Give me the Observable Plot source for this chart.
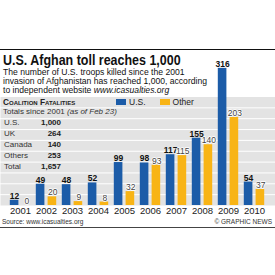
<!DOCTYPE html>
<html>
<head>
<meta charset="utf-8">
<script src="https://cdn.jsdelivr.net/npm/d3@7"></script>
<script src="https://cdn.jsdelivr.net/npm/@observablehq/plot@0.6"></script>
<style>
  html, body { margin: 0; padding: 0; background: #fff; }
  #wrap { position: relative; width: 275px; height: 275px; overflow: hidden; font-family: "Liberation Sans", Arial, sans-serif; color: #1a1a1a; }
  #chart { position: absolute; left: 0; top: 0; }
  .abs { position: absolute; white-space: nowrap; }
  #rule { left: 0; top: 48.5px; width: 275px; height: 1.5px; background: #111; }
  #title { left: 3px; top: 52px; font-weight: bold; font-size: 14.5px; line-height: 16px; color: #111; transform: scaleX(0.86); transform-origin: 0 0; }
  #sub { left: 3px; top: 67.5px; font-size: 8.6px; line-height: 9px; color: #111; }
  #sub i { font-style: italic; }
  #head { left: 3px; top: 96.5px; height: 10.8px; line-height: 10.8px; font-size: 8.3px; font-weight: bold; font-variant: small-caps; color: #222; }
  #totals { left: 3px; top: 107.3px; line-height: 10.8px; font-size: 8px; color: #333; }
  #table { left: 0; top: 118.2px; }
  #table .row { position: relative; height: 10.85px; line-height: 10.85px; font-size: 8px; width: 70px; }
  #table .lab { position: absolute; left: 4px; color: #333; }
  #table .val { position: absolute; right: 9px; font-weight: bold; color: #222; }
  #legend { left: 116px; top: 96.5px; line-height: 10.8px; font-size: 8.5px; color: #222; }
  #legend .sw { display: inline-block; width: 10px; height: 6px; vertical-align: -0.5px; margin-right: 3px; }
  #source { left: 2px; top: 218px; font-size: 6.5px; color: #333; }
  #credit { right: 3px; top: 218px; font-size: 6.5px; color: #333; }
  #rule2 { left: 0; top: 226.5px; width: 275px; height: 1px; background: #444; }
</style>
</head>
<body>
<div id="wrap">
  <div id="chart"></div>
  <div class="abs" id="rule"></div>
  <div class="abs" id="title"></div>
  <div class="abs" id="sub"></div>
  <div class="abs" id="head"></div>
  <div class="abs" id="totals"></div>
  <div class="abs" id="table"></div>
  <div class="abs" id="legend"></div>
  <div class="abs" id="source"></div>
  <div class="abs" id="credit"></div>
  <div class="abs" id="rule2"></div>
</div>
<script>
// ---- data ----
const years = ["2001","2002","2003","2004","2005","2006","2007","2008","2009","2010"];
const usDeaths = [12, 49, 48, 52, 99, 98, 117, 155, 316, 54];
const otherDeaths = [0, 20, 9, 8, 32, 93, 115, 140, 203, 37];
const seriesNames = ["U.S.", "Other"];
const tableLabels = ["U.S.", "UK", "Canada", "Others", "Total"];
const tableValues = ["1,000", "264", "140", "253", "1,657"];
const gridValues = [25, 50, 75, 100, 125, 150, 175, 200, 225];

const titleText = "U.S. Afghan toll reaches 1,000";
const subLines = ["The number of U.S. troops killed since the 2001",
                  "invasion of Afghanistan has reached 1,000, according"];
const subLast = "to independent website ";
const subSite = "www.icasualties.org";
const headText = "Coalition Fatalities";
const totalsText = "Totals since 2001 ";
const totalsItal = "(as of Feb 23)";
const sourceText = "Source: www.icasualties.org";
const creditText = "© GRAPHIC NEWS";

const blue = "#1c5ca8";
const orange = "#f8b416";

const rows = years.map((y, i) => ({year: y, us: usDeaths[i], other: otherDeaths[i]}));

// ---- text blocks ----
document.getElementById("title").textContent = titleText;
document.getElementById("sub").innerHTML = subLines.join("<br>") + "<br>" + subLast + "<i>" + subSite + "</i>";
document.getElementById("head").textContent = headText;
document.getElementById("totals").innerHTML = totalsText + "<i>" + totalsItal + "</i>";
document.getElementById("table").innerHTML = tableLabels.map((l, i) =>
  `<div class="row"><span class="lab">${l}</span><span class="val">${tableValues[i]}</span></div>`).join("");
document.getElementById("legend").innerHTML =
  `<span class="sw" style="background:${blue}"></span>${seriesNames[0]}<span style="display:inline-block;width:14px"></span><span class="sw" style="background:${orange}"></span>${seriesNames[1]}`;
document.getElementById("source").textContent = sourceText;
document.getElementById("credit").textContent = creditText;

// ---- chart ----
const chart = Plot.plot({
  width: 275,
  height: 275,
  marginTop: 96.5,
  marginBottom: 70,
  marginLeft: 0,
  marginRight: 0,
  style: {background: "transparent", fontFamily: "'Liberation Sans', Arial, sans-serif", overflow: "visible"},
  x: {type: "band", domain: years, range: [4.8, 269.2], padding: 0},
  y: {domain: [0, 250]},
  marks: [
    Plot.frame({fill: "#e3e3e3", stroke: null}),
    Plot.ruleY(gridValues, {stroke: "#fff", strokeWidth: 1}),
    Plot.barY(rows, {x: "year", y: "us", fill: blue, insetLeft: 2.8, insetRight: 14.6}),
    Plot.barY(rows, {x: "year", y: "other", fill: orange, insetLeft: 14.6, insetRight: 2.8}),
    Plot.text(rows, {x: "year", y: "us", text: d => String(d.us), dx: -5.9, dy: -1.5, lineAnchor: "bottom",
      fontWeight: "bold", fontSize: 8.5, fill: "#111"}),
    Plot.text(rows, {x: "year", y: "other", text: d => String(d.other), dx: 6.3, dy: -1.5, lineAnchor: "bottom",
      fontSize: 8.5, fill: "#444", stroke: "#fff", strokeWidth: 1.5}),
    Plot.axisX({tickSize: 0, tickPadding: 2, fontSize: 9.5, label: null, color: "#222"}),
    Plot.axisY({ticks: [], label: null})
  ]
});
document.getElementById("chart").appendChild(chart);
</script>
</body>
</html>
